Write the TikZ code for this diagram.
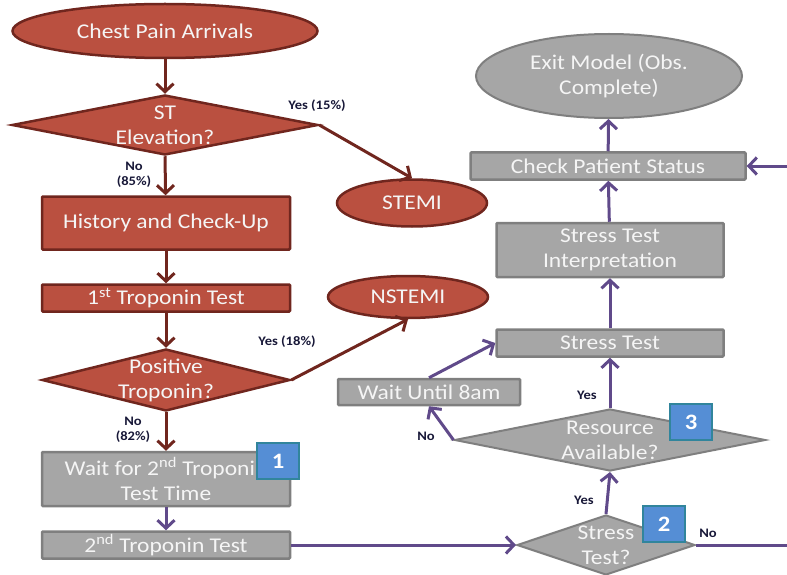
\documentclass[tikz,border=0pt]{standalone}
\usepackage{fontspec}
\setmainfont{Carlito}[FakeStretch=1.12]
\usetikzlibrary{shapes.geometric,arrows.meta}
\definecolor{redfill}{RGB}{186,80,64}
\definecolor{redline}{RGB}{112,38,30}
\definecolor{grayfill}{RGB}{166,166,166}
\definecolor{grayline}{RGB}{127,127,127}
\definecolor{purpleline}{RGB}{96,74,138}
\definecolor{badgefill}{RGB}{85,142,213}
\definecolor{badgeline}{RGB}{49,133,156}
\definecolor{labeltext}{RGB}{24,24,56}
\definecolor{boxtext}{RGB}{245,245,245}
\begin{document}
\begin{tikzpicture}[x=1pt,y=-1pt,
  txt/.style={font=\fontsize{21}{25}\selectfont, text=boxtext, align=center},
  redbox/.style={txt, rectangle, fill=redfill, draw=redline, line width=2.5pt, inner sep=0pt, rounded corners=1pt},
  graybox/.style={txt, rectangle, fill=grayfill, draw=grayline, line width=2.5pt, inner sep=0pt, rounded corners=1pt},
  redoval/.style={txt, ellipse, fill=redfill, draw=redline, line width=2.5pt, inner sep=0pt},
  grayoval/.style={txt, ellipse, fill=grayfill, draw=grayline, line width=2pt, inner sep=0pt},
  reddia/.style={diamond, fill=redfill, draw=redline, line width=2.5pt, inner sep=0pt},
  graydia/.style={diamond, fill=grayfill, draw=grayline, line width=2pt, inner sep=0pt},
  diatext/.style={label={[txt]center:#1}},
  badge/.style={rectangle, fill=badgefill, draw=badgeline, line width=2.5pt, minimum width=42pt, minimum height=36pt, inner sep=0pt, text=white, font=\bfseries\fontsize{22}{24}\selectfont},
  lab/.style={font=\bfseries\fontsize{13}{15}\selectfont, text=labeltext, align=center},
  redarr/.style={draw=redline, line width=3pt, -{Straight Barb[length=8pt,width=17pt]}},
  redln/.style={draw=redline, line width=3pt},
  purarr/.style={draw=purpleline, line width=3pt, -{Straight Barb[length=8pt,width=17pt]}},
  purln/.style={draw=purpleline, line width=3pt}]
\useasboundingbox (0,0) rectangle (787,575);
\clip (0,0) rectangle (787,575);

% left column: arrival and triage
\node[redoval, minimum width=305pt, minimum height=54pt] (arr) at (165,31) {Chest Pain Arrivals};
\node[reddia, minimum width=306pt, minimum height=60pt, diatext={ST\\Elevation?}] (ste) at (165,125) {};
\node[redoval, minimum width=150pt, minimum height=47pt] (stemi) at (412,203) {STEMI};
\node[redbox, minimum width=248pt, minimum height=53pt] (hist) at (166,223) {History and Check-Up};
\node[redbox, minimum width=248pt, minimum height=27pt] (trop1) at (166,298) {1\textsuperscript{st} Troponin Test};
\node[reddia, minimum width=248pt, minimum height=62pt, diatext={Positive\\Troponin?}] (pos) at (166,380) {};
\node[redoval, minimum width=160pt, minimum height=42pt] (nstemi) at (408,297) {NSTEMI};
\node[graybox, minimum width=248pt, minimum height=54pt] (wait2) at (166,479) {Wait for 2\textsuperscript{nd} Troponin\\Test Time};
\node[graybox, minimum width=248pt, minimum height=27pt] (trop2) at (166,545) {2\textsuperscript{nd} Troponin Test};

% right column: stress testing
\node[graydia, minimum width=178pt, minimum height=60pt, diatext={Stress\\Test?}] (stq) at (606,545) {};
\node[graydia, minimum width=311pt, minimum height=62pt, diatext={Resource\\Available?}] (res) at (610,440) {};
\node[graybox, minimum width=182pt, minimum height=26pt] (w8) at (429,392) {Wait Until 8am};
\node[graybox, minimum width=227pt, minimum height=27pt] (st) at (610,343) {Stress Test};
\node[graybox, minimum width=227pt, minimum height=54pt] (sti) at (610,250) {Stress Test\\Interpretation};
\node[graybox, minimum width=275pt, minimum height=27pt] (cps) at (608,166) {Check Patient Status};
\node[grayoval, minimum width=266pt, minimum height=84pt] (exit) at (609,76) {Exit Model (Obs.\\Complete)};
\coordinate (rx1) at (795,545);

% connectors of the triage path
\draw[redarr] (arr) -- (ste);
\draw[redarr] (ste.east) -- (stemi.north);
\draw[redarr] (ste.south) -- (hist);
\draw[redarr] (hist) -- (trop1);
\draw[redarr] (trop1) -- (pos);
\draw[redarr] (pos.east) -- (nstemi.south);
\draw[redarr] (pos.south) -- (wait2);

% connectors of the stress-test path
\draw[purarr] (wait2) -- (trop2);
\draw[purarr] (trop2.east) -- (stq.west);
\draw[purarr] (stq.north) -- (res.south);
\draw[purarr] (res.west) -- (w8.south);
\draw[purarr] (w8.north) -- (st.west);
\draw[purarr] (res.north) -- (st.south);
\draw[purarr] (st) -- (sti);
\draw[purarr] (sti) -- (cps);
\draw[purarr] (cps) -- (exit);
\draw[purarr] (stq.east) -- (rx1) |- (cps.east);

% branch labels
\node[lab] (l1) at (317,106) {Yes (15\%)};
\node[lab] (l2) at (134,175) {No\\(85\%)};
\node[lab] (l3) at (287,342) {Yes (18\%)};
\node[lab] (l4) at (133,430) {No\\(82\%)};
\node[lab] (l5) at (584,500) {Yes};
\node[lab] (l6) at (587,395) {Yes};
\node[lab] (l7) at (426,436) {No};
\node[lab] (l8) at (708,533) {No};

% numbered markers
\node[badge] (b1) at (278,461) {1};
\node[badge] (b2) at (664,524) {2};
\node[badge] (b3) at (691,422) {3};
\end{tikzpicture}
\end{document}
